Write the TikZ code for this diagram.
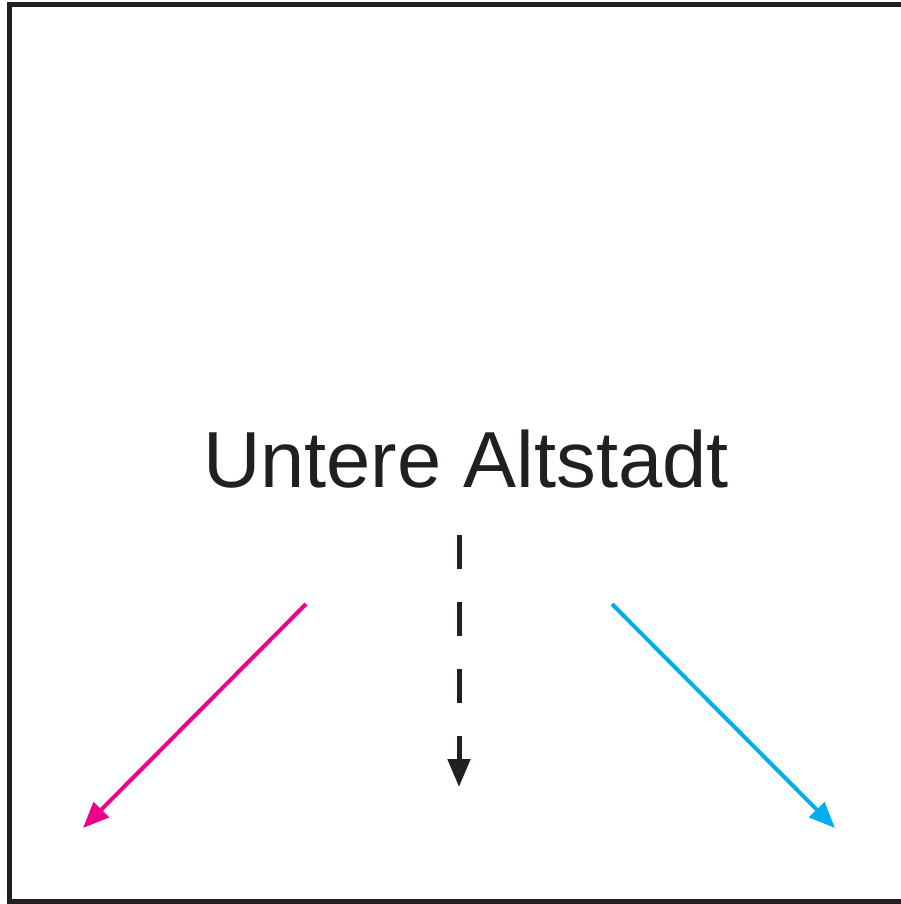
\documentclass[tikz,border=0pt]{standalone}
\usepackage{fontspec}
\setmainfont{Liberation Sans}
\usetikzlibrary{arrows.meta}
\definecolor{inkblack}{HTML}{231F20}
\definecolor{magentaink}{HTML}{EC008C}
\definecolor{cyanink}{HTML}{00AEEF}
\tikzset{
  frame/.style={draw=inkblack, line width=5pt},
  routearrow/.style={line width=4pt, -{Triangle[length=26pt,width=21pt]}},
  dasharrow/.style={draw=inkblack, line width=5pt, dash pattern=on 34pt off 33pt, -{Triangle[length=28pt,width=22pt]}},
  label/.style={font=\fontsize{79.5}{90}\selectfont, text=inkblack, inner sep=0pt}
}
\begin{document}
\begin{tikzpicture}[x=1pt,y=-1pt]
\useasboundingbox (0,0) rectangle (900,904);
\draw[frame] (9.5,4.5) rectangle (915,901.5);
\node[label, anchor=base] (title) at (466,487) {Untere Altstadt};
\coordinate (ps) at (306,604);
\coordinate (pe) at (83,828);
\coordinate (cs) at (612,604);
\coordinate (ce) at (835,828);
\coordinate (ds) at (459,535);
\coordinate (de) at (459,787);
\draw[routearrow, draw=magentaink] (ps) -- (pe);
\draw[routearrow, draw=cyanink] (cs) -- (ce);
\draw[dasharrow] (ds) -- (de);
\end{tikzpicture}
\end{document}
